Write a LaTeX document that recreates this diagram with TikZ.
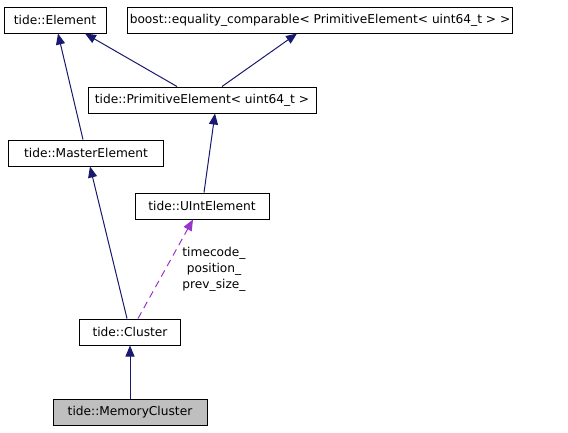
\documentclass[tikz,border=0pt]{standalone}
\usepackage{fontspec}
\setmainfont{DejaVu Sans}
\usetikzlibrary{arrows.meta}
\definecolor{edgeblue}{HTML}{191970}
\definecolor{edgepurple}{HTML}{9A32CD}

\begin{document}
\begin{tikzpicture}[x=1pt,y=-1pt,
  cls/.style={draw=black,line width=1pt,fill=white,minimum height=26pt,inner xsep=2pt,font=\fontsize{12.2}{15}\selectfont},
  here/.style={cls,fill=black!25},
  inherit/.style={draw=edgeblue,line width=1pt,-{Triangle[length=11pt,width=9pt]}},
  uses/.style={draw=edgepurple,line width=1pt,dash pattern=on 7pt off 5pt,-{Triangle[length=11pt,width=9pt]}}]
\useasboundingbox (0,0) rectangle (568,432);
\node [cls,minimum width=102pt] (elem) at (55,20) {tide::Element};
\node [cls,minimum width=385pt] (boost) at (320,20) {boost::equality\_comparable< PrimitiveElement< uint64\_t > >};
\node [cls,minimum width=228pt] (prim) at (202,100) {tide::PrimitiveElement< uint64\_t >};
\node [cls,minimum width=155pt] (master) at (86,153) {tide::MasterElement};
\node [cls,minimum width=134pt] (uint) at (202,206) {tide::UIntElement};
\node [cls,minimum width=101pt] (cluster) at (130,332) {tide::Cluster};
\node [here,minimum width=154pt] (mem) at (130,412) {tide::MemoryCluster};
\node [font=\fontsize{12.2}{16}\selectfont,align=center] (lbl) at (214,269) {timecode\_\\position\_\\prev\_size\_};
\draw [inherit] ([xshift=-25pt]prim.north) -- ([xshift=30pt]elem.south);
\draw [inherit] ([xshift=20pt]prim.north) -- ([xshift=-23pt]boost.south);
\draw [inherit] ([xshift=-3pt]master.north) -- ([xshift=3pt]elem.south);
\draw [inherit] ([xshift=2pt]uint.north) -- ([xshift=13pt]prim.south);
\draw [inherit] ([xshift=-3pt]cluster.north) -- ([xshift=4pt]master.south);
\draw [uses] ([xshift=8pt]cluster.north) -- ([xshift=-9pt]uint.south);
\draw [inherit] (mem) -- (cluster);
\end{tikzpicture}
\end{document}
